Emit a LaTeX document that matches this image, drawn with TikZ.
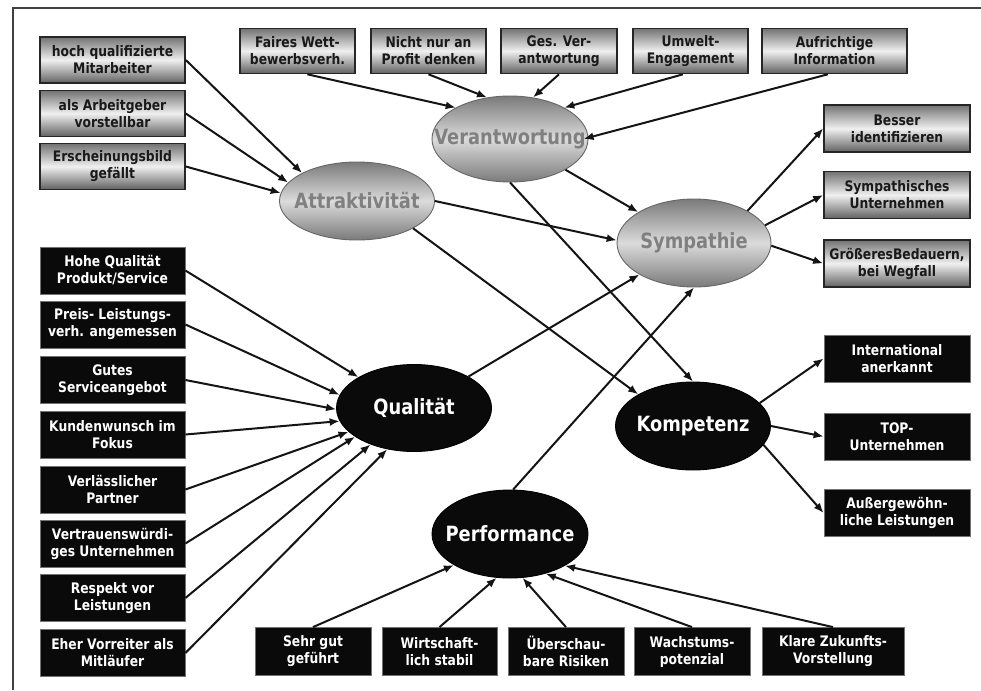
\documentclass[tikz,border=0pt]{standalone}
\usepackage{fontspec}
\setmainfont{DejaVu Sans}[FakeStretch=0.85]
\usetikzlibrary{arrows.meta,shapes.geometric}
\tikzset{
  graybox/.style={rectangle, draw=black!85, line width=1.6pt, top color=black!55, bottom color=black!62, middle color=black!6,
    minimum height=46pt, align=center, inner sep=0pt, text=black!90,
    font=\fontsize{14.5}{17}\selectfont\bfseries},
  blackbox/.style={rectangle, draw=black!55, line width=0.8pt, fill=black!96, text=white,
    minimum height=47pt, align=center, inner sep=0pt,
    font=\fontsize{14.5}{17}\selectfont\bfseries},
  ellbase/.style={ellipse, inner sep=0pt, line width=0.9pt},
  grayell/.style={ellbase, draw=black!60, top color=black!52, bottom color=black!52, middle color=black!14},
  blackell/.style={ellbase, draw=black, fill=black!96},
  graylbl/.style={text=black!50, font=\fontsize{21}{24}\selectfont\bfseries},
  whitelbl/.style={text=white, font=\fontsize{21}{24}\selectfont\bfseries},
  conn/.style={line width=2pt, draw=black!92, -{Latex[length=10pt,width=8pt]}},
  frameline/.style={line width=1.3pt, draw=black!75}
}
\begin{document}
\begin{tikzpicture}[x=1pt,y=-1pt]
\useasboundingbox (0,0) rectangle (981,690);
\fill[white] (0,0) rectangle (981,690);
% frame
\coordinate (fa) at (13,690);
\coordinate (fb) at (13,8);
\coordinate (fc) at (981,8);
\draw[frameline] (fa) -- (fb) -- (fc);

% ellipses
\node[grayell, minimum width=156pt, minimum height=86pt, label={[graylbl]center:Verantwortung}] (V) at (510,139) {};
\node[grayell, minimum width=155pt, minimum height=78pt, label={[graylbl]center:Attraktivität}] (A) at (357,201) {};
\node[grayell, minimum width=154pt, minimum height=88pt, label={[graylbl]center:Sympathie}] (S) at (694,243) {};
\node[blackell, minimum width=155pt, minimum height=87pt, label={[whitelbl]center:Qualität}] (Q) at (414,408) {};
\node[blackell, minimum width=155pt, minimum height=88pt, label={[whitelbl]center:Kompetenz}] (K) at (693,426) {};
\node[blackell, minimum width=156pt, minimum height=88pt, label={[whitelbl]center:Performance}] (P) at (510,534) {};

% gray left boxes
\node[graybox, minimum width=145pt] (g1) at (112.5,60) {hoch qualifizierte\\Mitarbeiter};
\node[graybox, minimum width=145pt] (g2) at (112.5,113.5) {als Arbeitgeber\\vorstellbar};
\node[graybox, minimum width=145pt] (g3) at (112.5,166.5) {Erscheinungsbild\\gefällt};

% top boxes
\node[graybox, minimum width=115pt, minimum height=45pt] (t1) at (297.5,51) {Faires Wett-\\bewerbsverh.};
\node[graybox, minimum width=115pt, minimum height=45pt] (t2) at (428.5,51) {Nicht nur an\\Profit denken};
\node[graybox, minimum width=116pt, minimum height=45pt] (t3) at (559,51) {Ges. Ver-\\antwortung};
\node[graybox, minimum width=115pt, minimum height=45pt] (t4) at (690.5,51) {Umwelt-\\Engagement};
\node[graybox, minimum width=145pt, minimum height=45pt] (t5) at (834.5,51) {Aufrichtige\\Information};

% right gray boxes
\node[graybox, minimum width=146pt, minimum height=47pt] (r1) at (897,128.5) {Besser\\identifizieren};
\node[graybox, minimum width=146pt, minimum height=47pt] (r2) at (897,195) {Sympathisches\\Unternehmen};
\node[graybox, minimum width=146pt, minimum height=47pt] (r3) at (897,263.5) {GrößeresBedauern,\\bei Wegfall};

% black left boxes
\node[blackbox, minimum width=145pt] (q1) at (112.5,270.5) {Hohe Qualität\\Produkt/Service};
\node[blackbox, minimum width=145pt] (q2) at (112.5,324.5) {Preis- Leistungs-\\verh. angemessen};
\node[blackbox, minimum width=145pt] (q3) at (112.5,380) {Gutes\\Serviceangebot};
\node[blackbox, minimum width=145pt] (q4) at (112.5,434.5) {Kundenwunsch im\\Fokus};
\node[blackbox, minimum width=145pt] (q5) at (112.5,489.5) {Verlässlicher\\Partner};
\node[blackbox, minimum width=145pt] (q6) at (112.5,543.5) {Vertrauenswürdi-\\ges Unternehmen};
\node[blackbox, minimum width=145pt] (q7) at (112.5,598) {Respekt vor\\Leistungen};
\node[blackbox, minimum width=145pt] (q8) at (112.5,653) {Eher Vorreiter als\\Mitläufer};

% bottom boxes
\node[blackbox, minimum width=116pt, minimum height=48pt] (b1) at (313,651.5) {Sehr gut\\geführt};
\node[blackbox, minimum width=115pt, minimum height=48pt] (b2) at (439.5,651.5) {Wirtschaft-\\lich stabil};
\node[blackbox, minimum width=116pt, minimum height=48pt] (b3) at (566,651.5) {Überschau-\\bare Risiken};
\node[blackbox, minimum width=116pt, minimum height=48pt] (b4) at (692,651.5) {Wachstums-\\potenzial};
\node[blackbox, minimum width=142pt, minimum height=48pt] (b5) at (833,651.5) {Klare Zukunfts-\\Vorstellung};

% right black boxes
\node[blackbox, minimum width=146pt] (k1) at (897,358.5) {International\\anerkannt};
\node[blackbox, minimum width=146pt] (k2) at (897,436.5) {TOP-\\Unternehmen};
\node[blackbox, minimum width=146pt] (k3) at (897,513) {Außergewöhn-\\liche Leistungen};

% connectors: gray left -> Attraktivitaet
\draw[conn] (g1.east) -- (A.153);
\draw[conn] (g2.east) -- (A.165);
\draw[conn] (g3.east) -- (A.174);
% top -> Verantwortung
\draw[conn] (t1.-67) -- (V.150);
\draw[conn] (t2.south) -- (V.119);
\draw[conn] (t3.south) -- (V.61);
\draw[conn] (t4.-108) -- (V.30);
\draw[conn, shorten >=-5pt] (t5.-106) -- (V.1);
% Verantwortung
\draw[conn] (V.-29) -- (S.151);
\draw[conn] (V.south) -- (K.north);
% Attraktivitaet
\draw[conn] (A.east) -- (S.178);
\draw[conn] (A.-26) -- (K.150);
% Qualitaet, Performance -> Sympathie
\draw[conn] (Q.30) -- (S.210);
\draw[conn] (P.86) -- (S.south);
% Sympathie -> right
\draw[conn] (S.31) -- (r1.west);
\draw[conn] (S.14) -- (r2.west);
\draw[conn] (S.-2) -- (r3.west);
% Kompetenz -> right
\draw[conn] (K.19) -- (k1.west);
\draw[conn] (K.east) -- (k2.west);
\draw[conn] (K.-15) -- (k3.west);
% black left -> Qualitaet
\draw[conn] (q1.east) -- (Q.151);
\draw[conn] (q2.east) -- (Q.170);
\draw[conn] (q3.east) -- (Q.181);
\draw[conn] (q4.east) -- (Q.190);
\draw[conn] (q5.east) -- (Q.200);
\draw[conn] (q6.east) -- (Q.206);
\draw[conn] (q7.east) -- (Q.220);
\draw[conn] (q8.east) -- (Q.237);
% bottom -> Performance
\draw[conn] (b1.north) -- (P.209);
\draw[conn] (b2.north) -- (P.253);
\draw[conn] (b3.north) -- (P.286);
\draw[conn] (b4.north) -- (P.312);
\draw[conn] (b5.north) -- (P.330);
\end{tikzpicture}
\end{document}
